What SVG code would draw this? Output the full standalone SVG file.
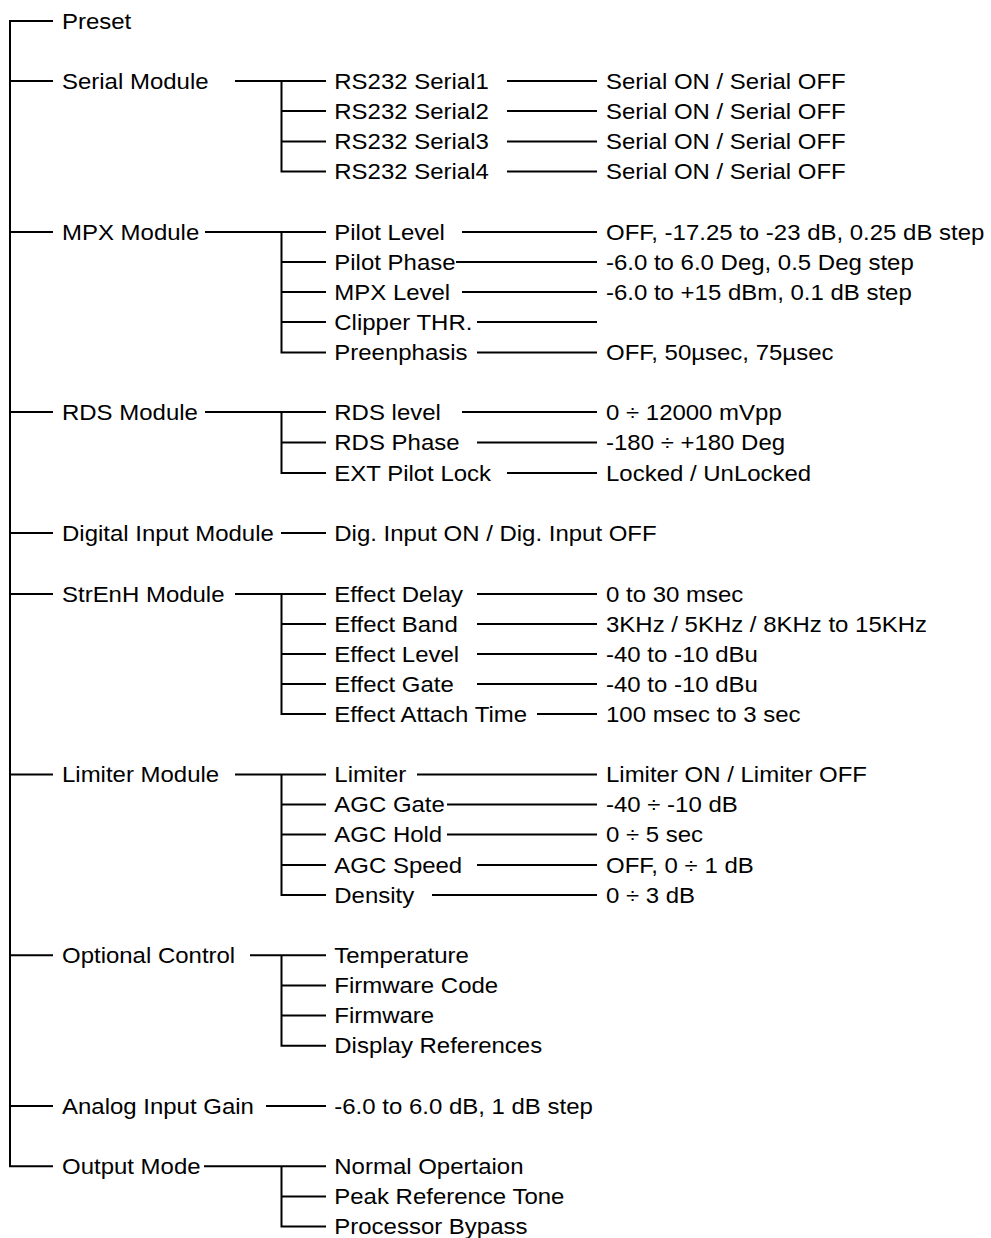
<svg xmlns="http://www.w3.org/2000/svg" width="991" height="1238" viewBox="0 0 991 1238">
<style>
text{font-family:"Liberation Sans",Arial,sans-serif;font-size:22px;fill:#000}
.c{fill:none;stroke:#000;stroke-width:2;stroke-linejoin:miter;stroke-linecap:butt}
</style>
<rect width="991" height="1238" fill="#fff"/>
<g id="connectors" class="c">
<path d="M53,21 H10 V1166.3 H53"/>
<path d="M10,81 H53 M10,232 H53 M10,412 H53 M10,533 H53 M10,594 H53 M10,774.5 H53 M10,955.3 H53 M10,1106 H53"/>
<path d="M235,81 H326 M281.5,81 V171.5 H326 M281.5,111 H326 M281.5,141.5 H326"/>
<path d="M507,81 H597 M507,111 H597 M507,141.5 H597 M507,171.5 H597"/>
<path d="M205,232 H326 M281.5,232 V352.5 H326 M281.5,262 H326 M281.5,292 H326 M281.5,322 H326"/>
<path d="M462,232 H597 M456,262 H597 M462,292 H597 M477,322 H597 M477,352.5 H597"/>
<path d="M205,412 H326 M281.5,412 V473 H326 M281.5,442.5 H326"/>
<path d="M462,412 H597 M477,442.5 H597 M507,473 H597"/>
<path d="M281,533 H326"/>
<path d="M235,594 H326 M281.5,594 V714 H326 M281.5,624 H326 M281.5,654 H326 M281.5,684 H326"/>
<path d="M477,594 H597 M477,624 H597 M477,654 H597 M477,684 H597 M537,714 H597"/>
<path d="M235,774.5 H326 M281.5,774.5 V895 H326 M281.5,804.5 H326 M281.5,834.5 H326 M281.5,865 H326"/>
<path d="M417,774.5 H597 M447,804.5 H597 M447,834.5 H597 M477,865 H597 M432,895 H597"/>
<path d="M250,955.3 H326 M281.5,955.3 V1045.8 H326 M281.5,985.5 H326 M281.5,1015.6 H326"/>
<path d="M266,1106 H326"/>
<path d="M204,1166.3 H326 M281.5,1166.3 V1226.6 H326 M281.5,1196.5 H326"/>
</g>
<g id="preset"><text transform="matrix(1.09 0 0 1 62 28.5)">Preset</text></g>
<g id="serial-module">
<text transform="matrix(1.09 0 0 1 62 88.5)">Serial Module</text>
<text transform="matrix(1.09 0 0 1 334.3 88.5)">RS232 Serial1</text>
<text transform="matrix(1.09 0 0 1 334.3 118.5)">RS232 Serial2</text>
<text transform="matrix(1.09 0 0 1 334.3 149)">RS232 Serial3</text>
<text transform="matrix(1.09 0 0 1 334.3 179)">RS232 Serial4</text>
<text transform="matrix(1.09 0 0 1 606 88.5)">Serial ON / Serial OFF</text>
<text transform="matrix(1.09 0 0 1 606 118.5)">Serial ON / Serial OFF</text>
<text transform="matrix(1.09 0 0 1 606 149)">Serial ON / Serial OFF</text>
<text transform="matrix(1.09 0 0 1 606 179)">Serial ON / Serial OFF</text>
</g>
<g id="mpx-module">
<text transform="matrix(1.09 0 0 1 62 239.5)">MPX Module</text>
<text transform="matrix(1.09 0 0 1 334.3 239.5)">Pilot Level</text>
<text transform="matrix(1.09 0 0 1 334.3 269.5)">Pilot Phase</text>
<text transform="matrix(1.09 0 0 1 334.3 299.5)">MPX Level</text>
<text transform="matrix(1.09 0 0 1 334.3 329.5)">Clipper THR.</text>
<text transform="matrix(1.09 0 0 1 334.3 360)">Preenphasis</text>
<text transform="matrix(1.09 0 0 1 606 239.5)">OFF, -17.25 to -23 dB, 0.25 dB step</text>
<text transform="matrix(1.09 0 0 1 606 269.5)">-6.0 to 6.0 Deg, 0.5 Deg step</text>
<text transform="matrix(1.09 0 0 1 606 299.5)">-6.0 to +15 dBm, 0.1 dB step</text>
<text transform="matrix(1.09 0 0 1 606 360)">OFF, 50µsec, 75µsec</text>
</g>
<g id="rds-module">
<text transform="matrix(1.09 0 0 1 62 419.5)">RDS Module</text>
<text transform="matrix(1.09 0 0 1 334.3 419.5)">RDS level</text>
<text transform="matrix(1.09 0 0 1 334.3 450)">RDS Phase</text>
<text transform="matrix(1.09 0 0 1 334.3 480.5)">EXT Pilot Lock</text>
<text transform="matrix(1.09 0 0 1 606 419.5)">0 ÷ 12000 mVpp</text>
<text transform="matrix(1.09 0 0 1 606 450)">-180 ÷ +180 Deg</text>
<text transform="matrix(1.09 0 0 1 606 480.5)">Locked / UnLocked</text>
</g>
<g id="digital-input-module">
<text transform="matrix(1.09 0 0 1 62 540.5)">Digital Input Module</text>
<text transform="matrix(1.09 0 0 1 334.3 540.5)">Dig. Input ON / Dig. Input OFF</text>
</g>
<g id="strenh-module">
<text transform="matrix(1.09 0 0 1 62 601.5)">StrEnH Module</text>
<text transform="matrix(1.09 0 0 1 334.3 601.5)">Effect Delay</text>
<text transform="matrix(1.09 0 0 1 334.3 631.5)">Effect Band</text>
<text transform="matrix(1.09 0 0 1 334.3 661.5)">Effect Level</text>
<text transform="matrix(1.09 0 0 1 334.3 691.5)">Effect Gate</text>
<text transform="matrix(1.09 0 0 1 334.3 721.5)">Effect Attach Time</text>
<text transform="matrix(1.09 0 0 1 606 601.5)">0 to 30 msec</text>
<text transform="matrix(1.09 0 0 1 606 631.5)">3KHz / 5KHz / 8KHz to 15KHz</text>
<text transform="matrix(1.09 0 0 1 606 661.5)">-40 to -10 dBu</text>
<text transform="matrix(1.09 0 0 1 606 691.5)">-40 to -10 dBu</text>
<text transform="matrix(1.09 0 0 1 606 721.5)">100 msec to 3 sec</text>
</g>
<g id="limiter-module">
<text transform="matrix(1.09 0 0 1 62 782)">Limiter Module</text>
<text transform="matrix(1.09 0 0 1 334.3 782)">Limiter</text>
<text transform="matrix(1.09 0 0 1 334.3 812)">AGC Gate</text>
<text transform="matrix(1.09 0 0 1 334.3 842)">AGC Hold</text>
<text transform="matrix(1.09 0 0 1 334.3 872.5)">AGC Speed</text>
<text transform="matrix(1.09 0 0 1 334.3 902.5)">Density</text>
<text transform="matrix(1.09 0 0 1 606 782)">Limiter ON / Limiter OFF</text>
<text transform="matrix(1.09 0 0 1 606 812)">-40 ÷ -10 dB</text>
<text transform="matrix(1.09 0 0 1 606 842)">0 ÷ 5 sec</text>
<text transform="matrix(1.09 0 0 1 606 872.5)">OFF, 0 ÷ 1 dB</text>
<text transform="matrix(1.09 0 0 1 606 902.5)">0 ÷ 3 dB</text>
</g>
<g id="optional-control">
<text transform="matrix(1.09 0 0 1 62 963)">Optional Control</text>
<text transform="matrix(1.09 0 0 1 334.3 963)">Temperature</text>
<text transform="matrix(1.09 0 0 1 334.3 993)">Firmware Code</text>
<text transform="matrix(1.09 0 0 1 334.3 1023)">Firmware</text>
<text transform="matrix(1.09 0 0 1 334.3 1053.3)">Display References</text>
</g>
<g id="analog-input-gain">
<text transform="matrix(1.09 0 0 1 62 1113.5)">Analog Input Gain</text>
<text transform="matrix(1.09 0 0 1 334.3 1113.5)">-6.0 to 6.0 dB, 1 dB step</text>
</g>
<g id="output-mode">
<text transform="matrix(1.09 0 0 1 62 1174)">Output Mode</text>
<text transform="matrix(1.09 0 0 1 334.3 1174)">Normal Opertaion</text>
<text transform="matrix(1.09 0 0 1 334.3 1204)">Peak Reference Tone</text>
<text transform="matrix(1.09 0 0 1 334.3 1234)">Processor Bypass</text>
</g>
</svg>
